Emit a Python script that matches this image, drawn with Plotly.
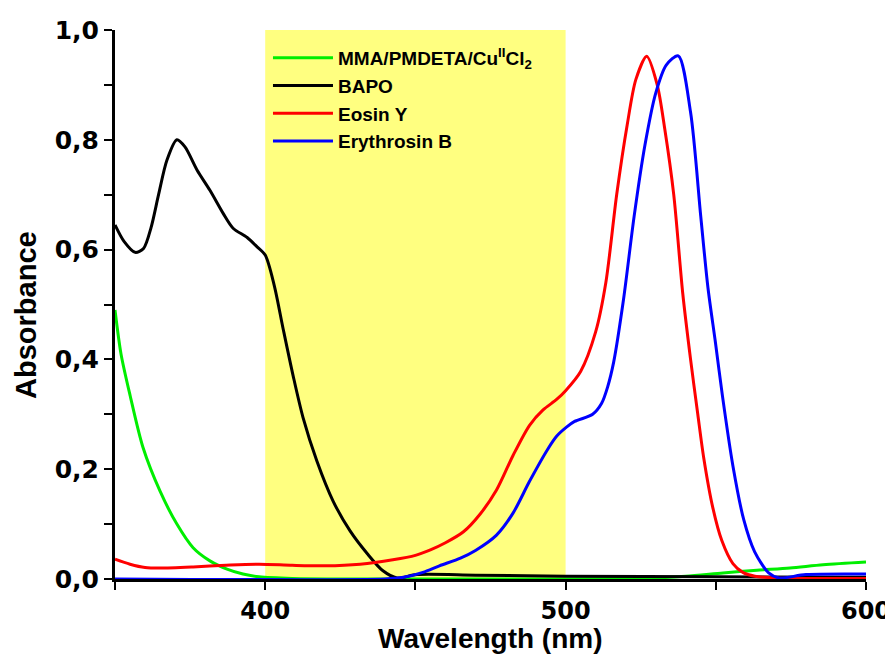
import plotly.graph_objects as go

# ---- data ----
wl_mma = [350, 352, 355, 359.3, 365, 370.6, 376, 381.6, 387.3, 392.6, 398, 409, 430, 480, 530, 540, 552.4, 563.7, 574.7, 585.7, 600]
abs_mma = [0.49, 0.41, 0.335, 0.24, 0.16, 0.10, 0.057, 0.033, 0.018, 0.009, 0.004, 0.001, 0.0, 0.0, 0.002, 0.005, 0.011, 0.016, 0.02, 0.026, 0.031]

wl_bapo = [350, 353, 356.7, 359.5, 362, 364.5, 367.3, 370.6, 373.3, 377.3, 381.6, 386, 389.3, 394, 397.3, 400, 403, 406,
           409.3, 412.6, 417.2, 422.6, 428.2, 434, 439.2, 443.9, 450.5, 470, 500, 550, 600]
abs_bapo = [0.645, 0.615, 0.595, 0.602, 0.64, 0.70, 0.763, 0.80, 0.787, 0.745, 0.708, 0.666, 0.639, 0.622, 0.605, 0.59, 0.535, 0.455,
            0.37, 0.294, 0.215, 0.142, 0.088, 0.046, 0.015, 0.002, 0.008, 0.007, 0.005, 0.004, 0.003]

wl_eosin = [350, 355, 360, 365, 376, 387, 398, 409, 420, 431.6, 442.5, 450, 455, 460, 466, 471.5, 477, 482.5, 488, 492.5, 497, 500,
            505, 510, 513.4, 517, 520.5, 523.4, 527, 530.5, 533, 536, 539, 541.6, 544, 546, 549, 552, 555.7, 559, 563, 570, 600]
abs_eosin = [0.036, 0.027, 0.021, 0.02, 0.022, 0.025, 0.027, 0.025, 0.024, 0.027, 0.035, 0.043, 0.053, 0.066, 0.086, 0.118, 0.162, 0.225,
             0.28, 0.308, 0.327, 0.343, 0.378, 0.45, 0.54, 0.70, 0.827, 0.91, 0.952, 0.90, 0.82, 0.70, 0.52, 0.40, 0.30, 0.22, 0.13,
             0.07, 0.028, 0.012, 0.005, 0.002, 0.001]

wl_ery = [350, 440, 446, 452.5, 458, 465, 470, 477, 482.5, 488, 494, 497, 500.4, 503, 509, 512, 514, 516, 519.3, 522.8, 526.4, 530,
          533.5, 537.5, 541.6, 545, 547.4, 549.9, 552.2, 555.7, 559.3, 562.9, 567.6, 571, 580, 600]
abs_ery = [0.0, 0.0, 0.003, 0.012, 0.024, 0.038, 0.052, 0.08, 0.12, 0.178, 0.236, 0.26, 0.277, 0.287, 0.30, 0.32, 0.35, 0.395, 0.51,
           0.66, 0.79, 0.885, 0.936, 0.953, 0.85, 0.66, 0.53, 0.43, 0.334, 0.206, 0.108, 0.05, 0.011, 0.002, 0.008, 0.009]

band = [400, 500]
x_ticks = [400, 500, 600]
y_ticks = [0.0, 0.2, 0.4, 0.6, 0.8, 1.0]

names = ["MMA/PMDETA/Cu<sup>II</sup>Cl<sub>2</sub>", "BAPO", "Eosin Y", "Erythrosin B"]
colors = ["#00ee00", "#000000", "#ff0000", "#0000ff"]

FONT = "Liberation Sans, Arial, sans-serif"
TICKFONT = "DejaVu Sans, Arial, sans-serif"

fig = go.Figure()
for wl, ab, nm, col in zip([wl_mma, wl_bapo, wl_eosin, wl_ery], [abs_mma, abs_bapo, abs_eosin, abs_ery], names, colors):
    fig.add_trace(go.Scatter(x=wl, y=ab, name=nm, mode="lines",
                             line=dict(color=col, width=3, shape="spline", smoothing=0.8)))

fig.add_shape(type="rect", xref="x", yref="paper", x0=band[0], x1=band[1], y0=0, y1=1,
              fillcolor="#ffff80", line=dict(width=0), layer="below")

# axis titles placed as text
fig.add_annotation(text="Wavelength (nm)", xref="paper", yref="paper", x=0.5, y=-0.1075,
                   xanchor="center", yanchor="middle", showarrow=False,
                   font=dict(size=28, family=FONT, weight="bold", color="black"))
fig.add_annotation(text="Absorbance", xref="paper", yref="paper", x=-0.1185, y=0.481,
                   xanchor="center", yanchor="middle", showarrow=False, textangle=-90,
                   font=dict(size=29, family=FONT, weight="bold", color="black"))

fig.update_layout(
    width=885, height=660,
    margin=dict(l=107, r=27, t=22, b=89),
    paper_bgcolor="white", plot_bgcolor="white",
    separators=", ",
    font=dict(family=FONT, color="black"),
    showlegend=True,
    legend=dict(x=0.2037, y=0.9836, xanchor="left", yanchor="top", bgcolor="rgba(0,0,0,0)",
                font=dict(size=19, family=FONT, weight="bold"), itemwidth=60, tracegroupgap=0),
)
fig.update_xaxes(range=[350, 600], showgrid=False, zeroline=False, showline=True, linecolor="black", linewidth=3,
                 automargin=False,
                 ticks="outside", ticklen=8, tickwidth=2, tickcolor="black", tickvals=x_ticks,
                 minor=dict(dtick=50, tick0=350, ticks="outside", ticklen=8, tickwidth=2, tickcolor="black"),
                 tickfont=dict(size=24, family=TICKFONT, weight="bold"))
fig.update_yaxes(range=[0, 1.0], showgrid=False, zeroline=False, showline=True, linecolor="black", linewidth=3,
                 automargin=False,
                 ticks="outside", ticklen=8, tickwidth=2, tickcolor="black", tickvals=y_ticks, tickformat=".1f",
                 minor=dict(dtick=0.1, tick0=0, ticks="outside", ticklen=8, tickwidth=2, tickcolor="black"),
                 tickfont=dict(size=25, family=TICKFONT, weight="bold"))

fig.write_html("out.html")
